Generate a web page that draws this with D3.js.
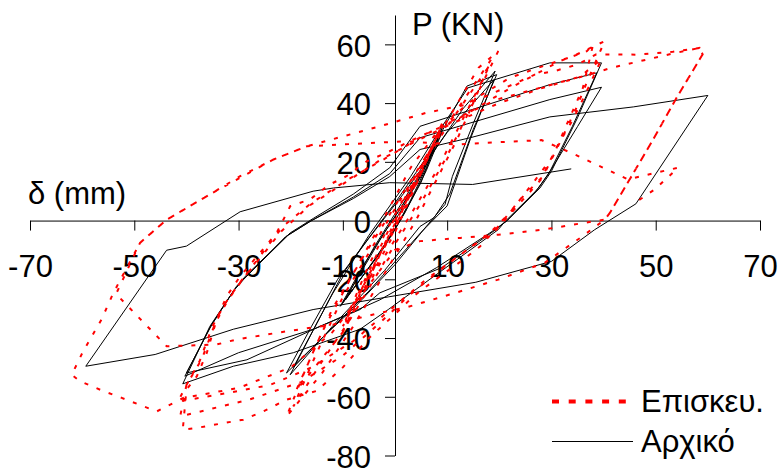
<!DOCTYPE html>
<html>
<head>
<meta charset="utf-8">
<script src="https://cdn.jsdelivr.net/npm/d3@7"></script>
<style>
  body { margin: 0; background: #fff; }
  text { font-family: "Liberation Sans", Arial, sans-serif; }
</style>
</head>
<body>
<div id="chart"></div>
<script>
// axis ticks
const xTicks = [-70, -50, -30, -10, 10, 30, 50, 70];
const yTicks = [-80, -60, -40, -20, 0, 20, 40, 60];
const seriesNames = ["Επισκευ.", "Αρχικό"];

// Αρχικό (original) - [delta mm, P kN]
const orig10 = [[0,0],[3,9],[6,19],[9.3,32.7],[6,18],[3,7],[0,-3],[-5,-16],[-10.5,-29.2],[-6,-15],[-2,-4],[1,4],[4,13],[9,30],[6,17],[2,3],[-2,-9],[-10,-28],[-6,-16],[-2,-4],[1,4],[5,15],[8.5,29],[5,13],[1,0],[-3,-11],[-9.5,-27]];
const orig20 = [[-4,-9],[2,8],[8,25],[13,38],[19.2,50.9],[15,33],[11,15],[9.6,5.5],[6,-2],[0,-15],[-8,-30],[-14,-40],[-20.8,-51.9],[-16,-36],[-11,-20],[-6.7,-9.9],[0,6],[7,24],[13.8,45.8],[19.5,49.7],[15,31],[10.5,9],[7.5,1],[4.8,-2],[-2,-17],[-12,-36],[-20.1,-52.5],[-15,-35],[-10,-18],[-5,-6],[2,10],[10,30],[19,48],[14.5,28],[10,5],[5,-4],[-5,-24],[-14,-40],[-19.5,-50]];
const orig40 = [[-12,-25],[-5,-5],[3,15],[9,32],[14,45.2],[29.7,53.7],[39.6,53.7],[35,35],[30,16.8],[27.8,11.1],[21.4,-0.2],[18.2,-4.2],[8,-16],[-2.9,-27],[-15.7,-37.1],[-28.4,-47.4],[-40,-51.9],
  [-35,-35],[-30.4,-22.4],[-28.4,-18.4],[-20.1,-4.2],[-15.7,0.7],[-8,9],[-1,18],[4.8,32.1],[29.7,46.3],[38.7,50.3],[34,32],[29.5,16],[27,10],[21,-0.5],[19.8,-3.1],[9,-17],[-1.3,-30.3],[-6.7,-37],[-19.5,-45],[-31,-49.6],[-40.7,-55.6],
  [-35.5,-36],[-30.8,-23.5],[-28.8,-19.5],[-20.5,-5],[-16,0],[-8,8],[-1,16],[4.8,28.2],[29.7,41.2],[39.6,45.4],[35,32],[30,17.5],[27.5,11],[21.5,0],[19,-3.5],[9,-16],[-2.9,-24.6],[-6.7,-30.3],[-15.7,-37],[-30,-45],[-40.3,-53]];
const orig60 = [[-35.5,-36.5],[-31,-24],[-29,-20],[-21,-5.5],[-16.5,-0.5],[-8,7.5],[-1,15],[4.8,24.2],[14.4,28.2],[29.7,35.3],[45.7,38.7],[60,42.6],[46.2,5.7],[38.3,-3.1],[30,-13.9],[15.5,-21],[-1.3,-26],[-15.7,-30.3],[-31,-37],[-46,-45.6],[-59.3,-49.6],
  [-47.3,-19],[-43.8,-10.1],[-40,-8.7],[-29.7,3],[-15.7,10],[-11.8,11.1],[-1,12.9],[14.9,12.3],[33.8,17.6]];

// Επισκευ. (repaired)
const rep10 = [[0,0],[2,7],[4.5,16],[2,6],[0,-3],[-3,-12],[-5,-20],[-2,-8],[0,0],[3,10],[6,21],[9,33],[6,20],[3,8],[0,-4],[-5,-20],[-10,-38],[-6,-22],[-2,-8],[2,6],[5,17],[8.6,31],[5,16],[1,2],[-3,-12],[-10,-36],[-6,-21],[-2,-6],[2,8],[8.5,30],[4,12],[0,-2],[-4,-15],[-9.5,-34]];
const rep20 = [[-5,-15],[0,2],[6,22],[12,40],[16,52],[19.8,57.7],[16,44],[12,28],[8,14],[4,0],[-2,-18],[-8,-36],[-14,-52],[-20.8,-66.7],[-17,-50],[-12,-30],[-6,-12],[0,5],[6,22],[12,38],[18.5,55],[15,40],[10,22],[5,6],[0,-8],[-8,-32],[-14,-48],[-19.5,-63.3],
  [-15,-45],[-10,-26],[-4,-8],[2,10],[10,32],[18.2,53],[14,38],[8,17],[3,2],[-3,-15],[-10,-38],[-19,-58]];
const rep40 = [[-14,-38],[-8,-18],[-3,-2],[3,18],[8,30],[14,40],[22,48.6],[28.4,52.6],[34.2,56],[40.2,61.1],[37,48],[34.8,38.4],[31.6,26.5],[28.4,15.1],[24,7.2],[20.1,-1.4],[16.3,-8.8],[13.1,-13.3],[8.6,-19],[3.5,-25.8],[0.3,-31.4],[-5,-40],[-10,-50],[-15,-58],[-20.8,-61],[-25.3,-65],[-29.1,-67.8],[-33.6,-69.2],[-38,-70.6],[-40.7,-71.2],
  [-40,-57.6],[-38,-53],[-36.1,-45.1],[-34.2,-33.7],[-32.3,-25.8],[-29.7,-19],[-25.9,-11],[-22.7,-4.2],[-20.1,4.9],[-16.3,7.2],[-12.5,12.3],[-9.3,15.1],[-5.4,20.2],[-1.6,23.1],[4,28],[11.5,34],[22,45],[31.6,54.3],[36.8,57.7],[38,60],
  [36,45],[33,33],[30.3,21.9],[26.5,12.9],[22,2.6],[18.2,-4.2],[10,-15],[3,-25],[-3,-35],[-10,-46],[-18,-55],[-28,-61],[-35,-64],[-41.2,-66.7],
  [-40,-56],[-37,-47],[-34.5,-35],[-32,-27],[-29,-19.5],[-25,-10],[-21.5,-2],[-16,6],[-9,14],[-2,21],[5,28.5],[12,35],[19.5,41.2],[29.1,45.8],[35.5,49],[39.6,55],
  [36.5,43],[34,34],[31,25],[28,14],[23.5,5],[19.5,-3],[13,-11],[6,-20],[0,-29],[-8,-41],[-16,-50],[-24,-56],[-33,-59],[-41.6,-61.6]];
const rep60 = [[-40,-56],[-37.5,-48],[-35,-36],[-32.5,-28],[-29.5,-20.5],[-25.5,-12],[-22,-4],[-16.5,5],[-9.5,13],[-2.5,21],[4,27],[11.5,33.5],[20,40],[28,45],[35.4,48.8],[41.5,52],[46.3,54],[53.3,56.9],[58.4,58.8],[59,56.6],
  [54,41.8],[49.5,27.6],[45,14],[41.2,2.6],[40.2,0.3],[35.5,-1],[28.4,-3.1],[19.8,-4.8],[12.5,-5.9],[4.8,-7],[0,-10],[-5,-22],[-12,-38],[-20,-50],[-30,-57],[-40.6,-60.4],[-45.7,-65],[-52.4,-60.4],[-56.3,-57.8],[-60.4,-54.7],[-62,-52.5],
  [-59.8,-44.5],[-56.3,-33.7],[-54,-24.6],[-48.9,-7.6],[-43.8,0.3],[-35.5,8.9],[-29.7,15.1],[-23.3,20.8],[-16.9,25.3],[-9.9,28.7],[-2.9,32.1],[6,36.7],[13.7,39.5],[20.1,44.4],[26.8,49.7],[30.6,50.9],[35.1,53.2],[38.6,56.6],[46.3,56.5],[53.3,57.5],[58.4,58.8],[59,56.6],
  [54,41.8],[49.5,27.6],[45,14],[41.2,2.6],[40.2,0.3],[36,-5.3],[28.7,-14.4],[19.8,-20.1],[10.5,-25.2],[1.9,-29.7],[-2.9,-31.4],[-11.8,-35.4],[-20.8,-37.7],[-30.4,-40.5],[-34.2,-42.2],[-43.8,-42.8],[-53.5,-25],
  [-48.9,-7.6],[-43.8,0.3],[-35.5,8.9],[-23.3,20.8],[-16.9,25.3],[1.9,27],[11.5,25.9],[17.8,26.5],[28.1,27.4],[34.5,22.5],[44.7,14],[49.8,16.2],[54.3,18],[49.8,10.6],[46,6]];

const original = orig10.concat(orig20, orig40, orig60);
const repaired = rep10.concat(rep20, rep40, rep60);

const W = 778, H = 471;
const fontSize = "31px";

const svg = d3.select("#chart")
  .append("svg")
  .attr("width", W)
  .attr("height", H);

const x = d3.scaleLinear().domain([-70, 70]).range([30, 760]);
const y = d3.scaleLinear().domain([-80, 70]).range([455.5, 15]);

// x axis crosses at P = 0
const xAxis = svg.append("g")
  .attr("transform", `translate(0,${y(0)})`)
  .call(d3.axisBottom(x).tickValues(xTicks).tickSize(10).tickSizeOuter(0).tickPadding(25)
    .tickFormat(d => String(d)));

// y axis crosses at delta = 0
const yAxis = svg.append("g")
  .attr("transform", `translate(${x(0)},0)`)
  .call(d3.axisLeft(y).tickValues(yTicks).tickSize(10).tickSizeOuter(0).tickPadding(14)
    .tickFormat(d => String(d)));

svg.selectAll(".domain, .tick line").attr("stroke", "#000").attr("stroke-width", 1);
svg.selectAll(".tick text")
  .attr("fill", "#000")
  .style("font-size", fontSize);
xAxis.selectAll(".tick text").attr("dy", "0.69em");
yAxis.selectAll(".tick text").attr("dy", "0.38em");

// axis titles
svg.append("text")
  .attr("x", 412).attr("y", 35)
  .style("font-size", fontSize)
  .text("P (KN)");
svg.append("text")
  .attr("x", 28).attr("y", 204)
  .style("font-size", fontSize)
  .text("δ (mm)");

const line = d3.line()
  .x(d => x(d[0]))
  .y(d => y(d[1]));

svg.append("path")
  .datum(original)
  .attr("d", line)
  .attr("fill", "none")
  .attr("stroke", "#000")
  .attr("stroke-width", 1);

svg.append("path")
  .datum(repaired)
  .attr("d", line)
  .attr("fill", "none")
  .attr("stroke", "#ff0000")
  .attr("stroke-width", 2)
  .attr("stroke-dasharray", "4,9");

// legend
const legend = svg.append("g");
legend.append("line")
  .attr("x1", 552).attr("x2", 626)
  .attr("y1", 401.5).attr("y2", 401.5)
  .attr("stroke", "#ff0000")
  .attr("stroke-width", 4)
  .attr("stroke-dasharray", "7,9.7");
legend.append("text")
  .attr("x", 641).attr("y", 412)
  .style("font-size", fontSize)
  .text(seriesNames[0]);
legend.append("line")
  .attr("x1", 552).attr("x2", 633)
  .attr("y1", 441.5).attr("y2", 441.5)
  .attr("stroke", "#000")
  .attr("stroke-width", 1);
legend.append("text")
  .attr("x", 641).attr("y", 452)
  .style("font-size", fontSize)
  .text(seriesNames[1]);
</script>
</body>
</html>
